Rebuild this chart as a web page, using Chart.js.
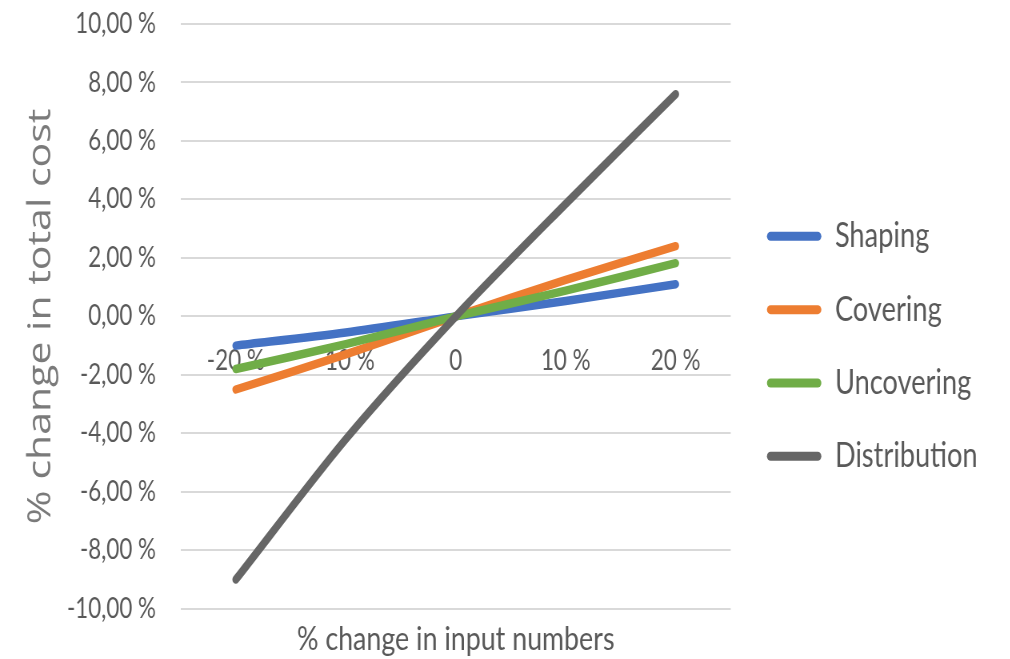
<!DOCTYPE html>
<html>
<head>
<meta charset="utf-8">
<script src="https://cdn.jsdelivr.net/npm/chart.js@4/dist/chart.umd.min.js"></script>
<style>
  html, body { margin: 0; padding: 0; background: #ffffff; overflow: hidden; }
  #wrap { width: 1010px; height: 659px; overflow: hidden; position: relative; background: #ffffff; }
  /* the chart is drawn on a wider canvas and narrowed horizontally */
  #c { position: absolute; left: 0; top: 0; transform: scaleX(0.8); transform-origin: 0 0; }
</style>
</head>
<body>
<div id="wrap"><canvas id="c" width="1263" height="659"></canvas></div>
<script>
// Sensitivity of total cost to the input numbers
const categories   = ['-20 %', '-10 %', '0', '10 %', '20 %'];
const seriesNames  = ['Shaping', 'Covering', 'Uncovering', 'Distribution'];
const shaping      = [-1.0, -0.55, 0, 0.53, 1.1];
const covering     = [-2.5, -1.3, 0, 1.25, 2.4];
const uncovering   = [-1.8, -0.95, 0, 0.88, 1.82];
const distribution = [-9.0, -4.2, 0, 3.85, 7.6];
const seriesColors = ['#4472C4', '#ED7D31', '#70AD47', '#666666'];

const yMin = -10, yMax = 10, yStep = 2;

const textGrey = '#595959';
const tickFont = { family: 'Lato', size: 28 };

const values = [shaping, covering, uncovering, distribution];
const datasets = values.map((vals, i) => ({
  label: seriesNames[i],
  data: vals,
  borderColor: seriesColors[i],
  backgroundColor: seriesColors[i],
  fill: false,
  // later series are painted over earlier ones
  order: values.length - 1 - i
}));

new Chart(document.getElementById('c'), {
  type: 'line',
  data: { labels: categories, datasets },
  options: {
    responsive: false,
    animation: false,
    layout: { padding: { left: 23, right: 31, top: 24, bottom: 0 } },
    elements: {
      point: { radius: 0, hoverRadius: 0 },
      line: { tension: 0.3, borderWidth: 8.5, borderCapStyle: 'round', borderJoinStyle: 'round' }
    },
    scales: {
      x: {
        type: 'category',
        position: { y: 0 },
        offset: true,
        grid: { display: false, drawTicks: false },
        border: { display: false },
        ticks: { padding: 28, color: textGrey, font: tickFont, maxRotation: 0, autoSkip: false }
      },
      xTitle: {
        type: 'category',
        position: 'bottom',
        offset: true,
        grid: { display: false, drawTicks: false },
        border: { display: false },
        ticks: { display: false },
        title: {
          display: true,
          text: '% change in input numbers',
          color: textGrey,
          font: { family: 'Lato', size: 33.5 },
          padding: { top: 10, bottom: 0 }
        }
      },
      y: {
        min: yMin,
        max: yMax,
        border: { display: false },
        // the gap between labels and plot is a transparent tick mark
        grid: { color: '#d9d9d9', lineWidth: 2, drawTicks: true, tickLength: 31, tickColor: 'rgba(0,0,0,0)' },
        ticks: {
          stepSize: yStep,
          padding: 0,
          color: textGrey,
          font: tickFont,
          callback: v => v.toFixed(2).replace('.', ',') + ' %'
        },
        title: {
          display: true,
          text: '% change in total cost',
          color: '#7a7a7a',
          font: { family: 'Open Sans', size: 41 },
          padding: { top: 4, bottom: 4 }
        },
        afterFit: scale => { scale.width = 203; }
      },
      // empty strip between the plot and the legend
      gap: {
        type: 'linear',
        position: 'right',
        grid: { display: false, drawTicks: false },
        border: { display: false },
        ticks: { display: false },
        afterFit: scale => { scale.width = 6; }
      }
    },
    plugins: {
      tooltip: { enabled: false },
      legend: {
        position: 'right',
        maxWidth: 500,
        title: { display: true, text: '', padding: 0, font: { size: 8 } },
        labels: {
          boxWidth: 68,
          boxHeight: 9,
          useBorderRadius: true,
          borderRadius: 4.5,
          padding: 39.3,
          color: textGrey,
          font: { family: 'Lato', size: 34 },
          sort: (a, b) => a.datasetIndex - b.datasetIndex,
          generateLabels: chart =>
            Chart.defaults.plugins.legend.labels.generateLabels(chart)
              .map(item => Object.assign(item, { lineWidth: 0, fillStyle: item.strokeStyle }))
        }
      }
    }
  }
});
</script>
</body>
</html>
